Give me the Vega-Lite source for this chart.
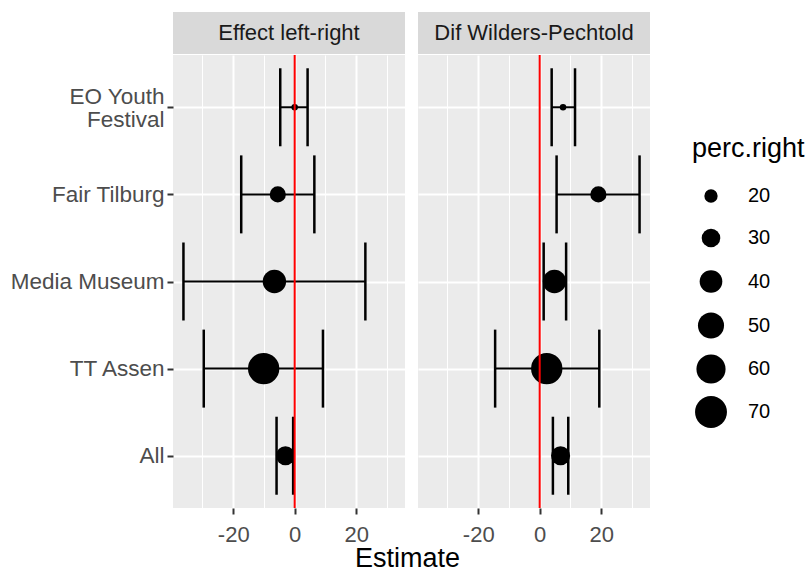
{
  "$schema": "https://vega.github.io/schema/vega-lite/v6.json",
  "padding": {"left": 10, "top": 12, "right": 5, "bottom": 2},
  "background": "white",
  "datasets": {
    "est": [
      {"panel": "Effect left-right", "event": "EO Youth Festival", "est": 0.0, "lo": -4.7, "hi": 4.2, "perc": 12},
      {"panel": "Effect left-right", "event": "Fair Tilburg", "est": -5.5, "lo": -17.4, "hi": 6.4, "perc": 25},
      {"panel": "Effect left-right", "event": "Media Museum", "est": -6.6, "lo": -36.2, "hi": 23.0, "perc": 42},
      {"panel": "Effect left-right", "event": "TT Assen", "est": -10.1, "lo": -29.6, "hi": 9.2, "perc": 68},
      {"panel": "Effect left-right", "event": "All", "est": -3.0, "lo": -5.9, "hi": -0.5, "perc": 31},
      {"panel": "Dif Wilders-Pechtold", "event": "EO Youth Festival", "est": 7.6, "lo": 3.9, "hi": 11.5, "perc": 12},
      {"panel": "Dif Wilders-Pechtold", "event": "Fair Tilburg", "est": 19.1, "lo": 5.5, "hi": 32.5, "perc": 25},
      {"panel": "Dif Wilders-Pechtold", "event": "Media Museum", "est": 4.8, "lo": 1.3, "hi": 8.6, "perc": 42},
      {"panel": "Dif Wilders-Pechtold", "event": "TT Assen", "est": 2.3, "lo": -14.5, "hi": 19.4, "perc": 68},
      {"panel": "Dif Wilders-Pechtold", "event": "All", "est": 6.8, "lo": 4.3, "hi": 9.3, "perc": 31}
    ],
    "strips": [
      {"panel": "Effect left-right"},
      {"panel": "Dif Wilders-Pechtold"}
    ],
    "ref": [
      {"panel": "Effect left-right", "ref": 0},
      {"panel": "Dif Wilders-Pechtold", "ref": 0}
    ]
  },
  "title": {
    "text": "Estimate",
    "orient": "bottom",
    "anchor": "middle",
    "fontSize": 27,
    "fontWeight": "normal",
    "color": "black",
    "font": "Liberation Sans",
    "offset": 1
  },
  "hconcat": [
    {
      "spacing": 0,
      "vconcat": [
        {
          "width": 232,
          "height": 42,
          "view": {"fill": "#d9d9d9", "stroke": null},
          "data": {"name": "strips"},
          "transform": [{"filter": "datum.panel == 'Effect left-right'"}],
          "mark": {"type": "text", "fontSize": 22, "color": "#1a1a1a", "font": "Liberation Sans", "baseline": "middle", "align": "center"},
          "encoding": {"text": {"field": "panel", "type": "nominal"}}
        },
        {
          "width": 232,
          "height": 453,
          "view": {"fill": "#ebebeb", "stroke": null},
          "resolve": {"axis": {"x": "independent"}},
          "layer": [
            {
              "data": {"name": "est"},
              "transform": [{"filter": "datum.panel == 'Effect left-right'"}],
              "mark": {"type": "rule", "color": "black", "strokeWidth": 2},
              "encoding": {
                "y": {
                  "field": "event",
                  "type": "nominal",
                  "scale": {"type": "point", "domain": ["EO Youth Festival", "Fair Tilburg", "Media Museum", "TT Assen", "All"], "padding": 0.6},
                  "axis": {
                    "title": null,
                    "domain": false,
                    "grid": true,
                    "gridColor": "white",
                    "gridWidth": 2,
                    "ticks": true,
                    "tickSize": 6,
                    "tickWidth": 2,
                    "tickColor": "#333333",
                    "labelFontSize": 22.5,
                    "labelColor": "#4d4d4d",
                    "labelPadding": 3,
                    "labelLineHeight": 23,
                    "labelOffset": {"condition": {"test": "datum.value == 'EO Youth Festival'", "value": -11}, "value": 0},
                    "labelExpr": "datum.value == 'EO Youth Festival' ? ['EO Youth', 'Festival'] : datum.label"
                  }
                },
                "x": {
                  "field": "lo",
                  "type": "quantitative",
                  "scale": {"domain": [-39.6, 35.9], "nice": false, "zero": false},
                  "axis": {
                    "title": null,
                    "orient": "bottom",
                    "domain": false,
                    "values": [-20, 0, 20],
                    "grid": true,
                    "gridColor": "white",
                    "gridWidth": 2,
                    "tickSize": 6,
                    "tickWidth": 2,
                    "tickColor": "#333333",
                    "labelFontSize": 22,
                    "labelColor": "#4d4d4d",
                    "labelPadding": 10,
                    "labelExpr": "datum.value < 0 ? '-' + abs(datum.value) : '' + datum.value"
                  }
                },
                "x2": {"field": "hi"}
              }
            },
            {
              "data": {"name": "est"},
              "transform": [{"filter": "datum.panel == 'Effect left-right'"}],
              "mark": {"type": "tick", "orient": "vertical", "color": "black", "size": 78, "thickness": 2.5, "opacity": 1},
              "encoding": {
                "y": {"field": "event", "type": "nominal"},
                "x": {"field": "lo", "type": "quantitative", "axis": {
                    "title": null,
                    "orient": "bottom",
                    "domain": false,
                    "values": [-30, -10, 10, 30],
                    "grid": true,
                    "gridColor": "white",
                    "gridWidth": 1,
                    "ticks": false,
                    "labels": false
                  }}}
            },
            {
              "data": {"name": "est"},
              "transform": [{"filter": "datum.panel == 'Effect left-right'"}],
              "mark": {"type": "tick", "orient": "vertical", "color": "black", "size": 78, "thickness": 2.5, "opacity": 1},
              "encoding": {
                "y": {"field": "event", "type": "nominal"},
                "x": {"field": "hi", "type": "quantitative", "axis": null}}
            },
            {
              "data": {"name": "est"},
              "transform": [{"filter": "datum.panel == 'Effect left-right'"}],
              "mark": {"type": "circle", "color": "black", "opacity": 1},
              "encoding": {
                "y": {"field": "event", "type": "nominal"},
                "x": {"field": "est", "type": "quantitative", "axis": null},
                "size": {
                  "field": "perc",
                  "type": "quantitative",
                  "scale": {"domain": [20, 70], "range": [177, 1018], "zero": false},
                  "legend": {
                    "title": "perc.right",
                    "values": [20, 30, 40, 50, 60, 70],
                    "orient": "none",
                    "legendX": 519,
                    "legendY": 124
                  }
                }
              }
            },
            {
              "data": {"name": "ref"},
              "transform": [{"filter": "datum.panel == 'Effect left-right'"}],
              "mark": {"type": "rule", "color": "#ff0000", "strokeWidth": 2},
              "encoding": {"x": {"field": "ref", "type": "quantitative", "axis": null}}
            }
          ]
        }
      ]
    },
    {
      "spacing": 0,
      "vconcat": [
        {
          "width": 232,
          "height": 42,
          "view": {"fill": "#d9d9d9", "stroke": null},
          "data": {"name": "strips"},
          "transform": [{"filter": "datum.panel == 'Dif Wilders-Pechtold'"}],
          "mark": {"type": "text", "fontSize": 22, "color": "#1a1a1a", "font": "Liberation Sans", "baseline": "middle", "align": "center"},
          "encoding": {"text": {"field": "panel", "type": "nominal"}}
        },
        {
          "width": 232,
          "height": 453,
          "view": {"fill": "#ebebeb", "stroke": null},
          "resolve": {"axis": {"x": "independent"}},
          "layer": [
            {
              "data": {"name": "est"},
              "transform": [{"filter": "datum.panel == 'Dif Wilders-Pechtold'"}],
              "mark": {"type": "rule", "color": "black", "strokeWidth": 2},
              "encoding": {
                "y": {
                  "field": "event",
                  "type": "nominal",
                  "scale": {"type": "point", "domain": ["EO Youth Festival", "Fair Tilburg", "Media Museum", "TT Assen", "All"], "padding": 0.6},
                  "axis": {
                    "title": null,
                    "domain": false,
                    "grid": true,
                    "gridColor": "white",
                    "gridWidth": 2,
                    "ticks": false,
                    "labels": false
                  }
                },
                "x": {
                  "field": "lo",
                  "type": "quantitative",
                  "scale": {"domain": [-39.6, 35.9], "nice": false, "zero": false},
                  "axis": {
                    "title": null,
                    "orient": "bottom",
                    "domain": false,
                    "values": [-20, 0, 20],
                    "grid": true,
                    "gridColor": "white",
                    "gridWidth": 2,
                    "tickSize": 6,
                    "tickWidth": 2,
                    "tickColor": "#333333",
                    "labelFontSize": 22,
                    "labelColor": "#4d4d4d",
                    "labelPadding": 10,
                    "labelExpr": "datum.value < 0 ? '-' + abs(datum.value) : '' + datum.value"
                  }
                },
                "x2": {"field": "hi"}
              }
            },
            {
              "data": {"name": "est"},
              "transform": [{"filter": "datum.panel == 'Dif Wilders-Pechtold'"}],
              "mark": {"type": "tick", "orient": "vertical", "color": "black", "size": 78, "thickness": 2.5, "opacity": 1},
              "encoding": {
                "y": {"field": "event", "type": "nominal"},
                "x": {"field": "lo", "type": "quantitative", "axis": {
                    "title": null,
                    "orient": "bottom",
                    "domain": false,
                    "values": [-30, -10, 10, 30],
                    "grid": true,
                    "gridColor": "white",
                    "gridWidth": 1,
                    "ticks": false,
                    "labels": false
                  }}}
            },
            {
              "data": {"name": "est"},
              "transform": [{"filter": "datum.panel == 'Dif Wilders-Pechtold'"}],
              "mark": {"type": "tick", "orient": "vertical", "color": "black", "size": 78, "thickness": 2.5, "opacity": 1},
              "encoding": {
                "y": {"field": "event", "type": "nominal"},
                "x": {"field": "hi", "type": "quantitative", "axis": null}}
            },
            {
              "data": {"name": "est"},
              "transform": [{"filter": "datum.panel == 'Dif Wilders-Pechtold'"}],
              "mark": {"type": "circle", "color": "black", "opacity": 1},
              "encoding": {
                "y": {"field": "event", "type": "nominal"},
                "x": {"field": "est", "type": "quantitative", "axis": null},
                "size": {
                  "field": "perc",
                  "type": "quantitative",
                  "scale": {"domain": [20, 70], "range": [177, 1018], "zero": false},
                  "legend": null
                }
              }
            },
            {
              "data": {"name": "ref"},
              "transform": [{"filter": "datum.panel == 'Dif Wilders-Pechtold'"}],
              "mark": {"type": "rule", "color": "#ff0000", "strokeWidth": 2},
              "encoding": {"x": {"field": "ref", "type": "quantitative", "axis": null}}
            }
          ]
        }
      ]
    }
  ],
  "spacing": 13,
  "resolve": {"scale": {"size": "shared"}, "legend": {"size": "shared"}},
  "config": {
    "font": "Liberation Sans",
    "legend": {
      "titleFontSize": 27,
      "titleFontWeight": "normal",
      "titleColor": "black",
      "titlePadding": 23,
      "labelFontSize": 20,
      "labelColor": "black",
      "labelOffset": 21,
      "symbolOffset": 3,
      "symbolFillColor": "black",
      "symbolStrokeWidth": 0,
      "symbolOpacity": 1,
      "symbolType": "circle",
      "gridAlign": "all",
      "rowPadding": 10
    }
  }
}
